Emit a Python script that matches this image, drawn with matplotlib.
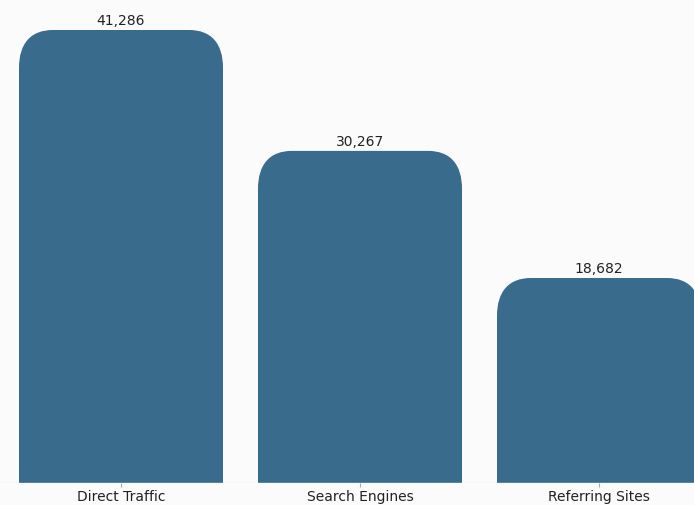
import matplotlib.pyplot as plt
from matplotlib.path import Path
from matplotlib.patches import PathPatch

# Visitas por origem de tráfego
categorias = ['Direct Traffic', 'Search Engines', 'Referring Sites']
visitas = [41286, 30267, 18682]

COR_BARRA = '#386b8c'
FUNDO = '#fbfbfb'


def barra_arredondada(ax, x, largura, altura, rx, ry, cor):
    # barra com cantos superiores arredondados (bezier cúbica)
    esq, dir_ = x - largura / 2, x + largura / 2
    k = 0.35
    verts = [
        (esq, 0), (esq, altura - ry),
        (esq, altura - ry * k), (esq + rx * k, altura), (esq + rx, altura),
        (dir_ - rx, altura),
        (dir_ - rx * k, altura), (dir_, altura - ry * k), (dir_, altura - ry),
        (dir_, 0), (esq, 0),
    ]
    codes = [Path.MOVETO, Path.LINETO,
             Path.CURVE4, Path.CURVE4, Path.CURVE4,
             Path.LINETO,
             Path.CURVE4, Path.CURVE4, Path.CURVE4,
             Path.LINETO, Path.CLOSEPOLY]
    ax.add_patch(PathPatch(Path(verts, codes), facecolor=cor, edgecolor='none'))


fig = plt.figure(figsize=(6.94, 5.05), dpi=100, facecolor=FUNDO)
ax = fig.add_axes([0, 22 / 505, 1, 483 / 505])
ax.set_facecolor(FUNDO)

passo_px = 239.0
ax.set_xlim(-121 / passo_px, (694 - 121) / passo_px)
topo = max(visitas) * 483 / 453
ax.set_ylim(0, topo)

px_x = 1 / passo_px
px_y = topo / 483
largura = 204 * px_x

posicoes = range(len(categorias))
for i, v in zip(posicoes, visitas):
    barra_arredondada(ax, i, largura, v, 34 * px_x, 38 * px_y, COR_BARRA)
    ax.text(i, v + 2 * px_y, f'{v:,}', ha='center', va='bottom',
            fontsize=10, color='#222222')

ax.axhline(0, color='#e2e2e2', lw=1)

ax.set_xticks(list(posicoes))
ax.set_xticklabels(categorias, fontsize=10, color='#222222')
ax.tick_params(axis='x', length=3, color='#aaaaaa', pad=2)
ax.set_yticks([])
for lado in ax.spines.values():
    lado.set_visible(False)

plt.savefig('out.png', dpi=100, facecolor=FUNDO)
plt.close()
